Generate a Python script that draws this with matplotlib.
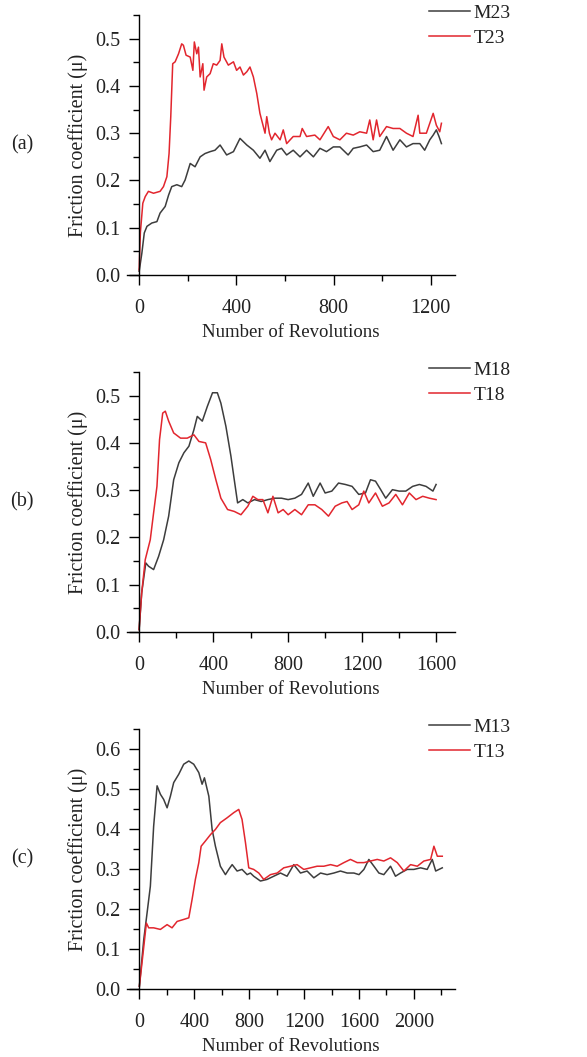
import matplotlib
matplotlib.use("Agg")
import matplotlib.pyplot as plt
from matplotlib.ticker import MultipleLocator

plt.rcParams['font.family'] = ['Liberation Serif', 'DejaVu Serif']

# (a) values
a_t23_x = [0, 5, 15, 25, 38, 59, 86, 100, 114, 123, 130, 138, 148, 162, 175, 182, 193, 210, 221, 227,
           237, 244, 251, 262, 267, 278, 292, 305, 319, 333, 340, 349, 367, 388, 401, 415, 429, 443,
           456, 470, 484, 497, 511, 518, 525, 536, 545, 559, 580, 593, 607, 634, 662, 671, 689, 723,
           744, 778, 799, 826, 853, 881, 908, 936, 949, 963, 977, 990, 1018, 1045, 1073, 1100, 1127,
           1148, 1155, 1182, 1210, 1223, 1237, 1244]
a_t23_y = [0.011, 0.09, 0.152, 0.166, 0.177, 0.173, 0.177, 0.187, 0.208, 0.257, 0.335, 0.447, 0.451,
           0.468, 0.489, 0.486, 0.465, 0.461, 0.433, 0.493, 0.468, 0.482, 0.419, 0.447, 0.391, 0.419,
           0.426, 0.447, 0.444, 0.454, 0.489, 0.461, 0.444, 0.451, 0.433, 0.440, 0.423, 0.430, 0.440,
           0.419, 0.384, 0.342, 0.314, 0.300, 0.335, 0.300, 0.286, 0.300, 0.286, 0.307, 0.278, 0.293,
           0.293, 0.310, 0.293, 0.296, 0.286, 0.314, 0.293, 0.286, 0.300, 0.296, 0.303, 0.300, 0.328,
           0.286, 0.328, 0.293, 0.314, 0.310, 0.310, 0.300, 0.293, 0.338, 0.300, 0.300, 0.342, 0.317,
           0.303, 0.321]
a_m23_x = [0, 11, 21, 32, 52, 73, 86, 107, 121, 134, 155, 175, 189, 210, 230, 251, 271, 292, 312, 333,
           360, 388, 415, 443, 470, 497, 518, 538, 566, 586, 607, 634, 662, 689, 717, 744, 771, 799,
           826, 860, 881, 908, 936, 963, 990, 1018, 1045, 1073, 1100, 1127, 1155, 1175, 1196, 1210,
           1223, 1234, 1244]
a_m23_y = [0.008, 0.046, 0.089, 0.103, 0.110, 0.113, 0.131, 0.145, 0.169, 0.187, 0.191, 0.187, 0.201,
           0.236, 0.229, 0.250, 0.257, 0.261, 0.264, 0.275, 0.254, 0.261, 0.289, 0.275, 0.264, 0.247,
           0.264, 0.240, 0.264, 0.268, 0.254, 0.264, 0.250, 0.264, 0.250, 0.268, 0.261, 0.271, 0.271,
           0.254, 0.268, 0.271, 0.275, 0.261, 0.264, 0.293, 0.264, 0.286, 0.271, 0.278, 0.278, 0.264,
           0.286, 0.296, 0.307, 0.293, 0.278]

# (b)
b_t18_x = [0, 14, 33, 42, 60, 78, 96, 110, 127, 141, 159, 186, 223, 259, 295, 322, 358, 385, 413, 440,
           476, 512, 548, 585, 612, 639, 666, 693, 720, 748, 775, 802, 838, 874, 910, 946, 983, 1019,
           1055, 1091, 1119, 1146, 1182, 1209, 1236, 1272, 1309, 1345, 1381, 1417, 1454, 1490, 1526,
           1562, 1598]
b_t18_y = [0.005, 0.083, 0.153, 0.167, 0.195, 0.252, 0.308, 0.407, 0.463, 0.467, 0.446, 0.421, 0.410,
           0.410, 0.417, 0.403, 0.400, 0.365, 0.322, 0.283, 0.259, 0.255, 0.248, 0.266, 0.287, 0.280,
           0.280, 0.252, 0.287, 0.252, 0.259, 0.248, 0.259, 0.248, 0.269, 0.269, 0.259, 0.245, 0.266,
           0.273, 0.276, 0.259, 0.269, 0.298, 0.273, 0.294, 0.266, 0.273, 0.291, 0.269, 0.294, 0.280,
           0.287, 0.283, 0.280]
b_m18_x = [0, 14, 36, 51, 78, 105, 132, 159, 186, 214, 241, 268, 295, 313, 340, 367, 395, 421, 440, 467,
           494, 512, 530, 558, 585, 621, 657, 693, 730, 766, 802, 838, 874, 910, 937, 974, 1001, 1037,
           1073, 1110, 1146, 1182, 1218, 1245, 1272, 1300, 1327, 1363, 1399, 1435, 1472, 1508, 1544,
           1581, 1598]
b_m18_y = [0.005, 0.083, 0.146, 0.139, 0.132, 0.160, 0.195, 0.245, 0.322, 0.358, 0.379, 0.393, 0.428,
           0.456, 0.446, 0.477, 0.506, 0.506, 0.484, 0.435, 0.372, 0.322, 0.273, 0.280, 0.273, 0.280,
           0.276, 0.280, 0.283, 0.283, 0.280, 0.283, 0.291, 0.315, 0.287, 0.315, 0.294, 0.298, 0.315,
           0.312, 0.308, 0.291, 0.294, 0.322, 0.319, 0.301, 0.283, 0.301, 0.298, 0.298, 0.308, 0.312,
           0.308, 0.298, 0.312]

# (c)
c_t13_x = [0, 27, 51, 68, 104, 153, 202, 238, 275, 323, 360, 384, 408, 433, 450, 481, 518, 554, 590,
           639, 688, 724, 748, 773, 797, 833, 870, 906, 955, 1004, 1052, 1101, 1149, 1198, 1247, 1295,
           1344, 1393, 1441, 1490, 1538, 1587, 1636, 1684, 1733, 1781, 1830, 1879, 1927, 1976, 2025,
           2073, 2122, 2146, 2171, 2207]
c_t13_y = [0.007, 0.090, 0.165, 0.153, 0.153, 0.149, 0.161, 0.153, 0.169, 0.174, 0.178, 0.224, 0.274,
           0.316, 0.357, 0.370, 0.386, 0.399, 0.416, 0.428, 0.441, 0.449, 0.424, 0.366, 0.303, 0.299,
           0.290, 0.274, 0.286, 0.290, 0.303, 0.307, 0.311, 0.299, 0.303, 0.307, 0.307, 0.311, 0.307,
           0.316, 0.324, 0.316, 0.316, 0.320, 0.324, 0.320, 0.328, 0.316, 0.295, 0.311, 0.307, 0.320,
           0.324, 0.357, 0.332, 0.332]
c_m13_x = [0, 32, 56, 80, 104, 129, 153, 177, 202, 226, 250, 287, 323, 360, 396, 433, 457, 474, 506,
           530, 554, 590, 627, 651, 676, 712, 748, 785, 809, 833, 882, 930, 979, 1028, 1076, 1125, 1174,
           1222, 1271, 1320, 1368, 1417, 1465, 1514, 1563, 1600, 1636, 1672, 1709, 1745, 1781, 1830,
           1866, 1903, 1951, 2000, 2049, 2097, 2134, 2159, 2183, 2207]
c_m13_y = [0.007, 0.124, 0.190, 0.257, 0.407, 0.508, 0.487, 0.474, 0.453, 0.482, 0.516, 0.537, 0.562,
           0.570, 0.562, 0.541, 0.512, 0.528, 0.482, 0.399, 0.357, 0.307, 0.286, 0.299, 0.311, 0.295,
           0.299, 0.286, 0.290, 0.282, 0.270, 0.274, 0.282, 0.290, 0.282, 0.311, 0.290, 0.295, 0.278,
           0.290, 0.286, 0.290, 0.295, 0.290, 0.290, 0.286, 0.299, 0.324, 0.307, 0.290, 0.286, 0.307,
           0.282, 0.290, 0.299, 0.299, 0.303, 0.299, 0.324, 0.295, 0.299, 0.303]

panels = [
    ("(a)", a_m23_x, a_m23_y, "M23", a_t23_x, a_t23_y, "T23", (-50, 1300), (0, 0.55), 400, 0.7398),
    ("(b)", b_m18_x, b_m18_y, "M18", b_t18_x, b_t18_y, "T18", (-65, 1700), (0, 0.55), 400, 0.4021),
    ("(c)", c_m13_x, c_m13_y, "M13", c_t13_x, c_t13_y, "T13", (-90, 2300), (0, 0.65), 400, 0.0643),
]

GRAY = '#3d3d3d'
RED = '#e2262e'
TXT = '#222222'

fig = plt.figure(figsize=(5.87, 10.57), dpi=100)

for tag, mx, my, mlab, tx, ty, tlab, xl, yl, xmaj, bottom in panels:
    ax = fig.add_axes([0.2164, bottom, 0.5588, 0.246])
    ax.plot(mx, my, color=GRAY, lw=1.1, label=mlab)
    ax.plot(tx, ty, color=RED, lw=1.1, label=tlab)
    ax.set_xlim(*xl)
    ax.set_ylim(*yl)
    ax.spines['top'].set_visible(False)
    ax.spines['right'].set_visible(False)
    ax.spines['left'].set_position(('data', 0))
    for s in ('left', 'bottom'):
        ax.spines[s].set_linewidth(1.0)
    ax.xaxis.set_major_locator(MultipleLocator(xmaj))
    ax.xaxis.set_minor_locator(MultipleLocator(xmaj / 2))
    ax.yaxis.set_major_locator(MultipleLocator(0.1))
    ax.yaxis.set_minor_locator(MultipleLocator(0.05))
    ax.yaxis.set_major_formatter(plt.FormatStrFormatter('%.1f'))
    ax.tick_params(which='major', direction='out', length=7.5, width=1.0, labelsize=14.5,
                   labelcolor=TXT)
    ax.tick_params(which='minor', direction='out', length=4, width=1.0)
    ax.tick_params(axis='x', which='major', pad=10)
    ax.tick_params(axis='y', which='major', pad=6)
    ax.set_xlabel("Number of Revolutions", fontsize=13.5, color=TXT)
    ax.set_ylabel("Friction coefficient (\u03bc)", fontsize=14.5, color=TXT)
    ax.xaxis.set_label_coords(0.5, -0.19)
    ax.yaxis.set_label_coords(-0.12, 0.5)
    ax.legend(loc='upper left', bbox_to_anchor=(0.922, 1.04), frameon=False, fontsize=14,
              handlelength=2.1, handletextpad=0.15, labelspacing=0.38, borderaxespad=0,
              borderpad=0, labelcolor=TXT)
    ax.text(-0.32, 0.5, tag, transform=ax.transAxes, fontsize=14.5, ha='center', va='center',
            color=TXT)

fig.savefig("out.png", dpi=100)
